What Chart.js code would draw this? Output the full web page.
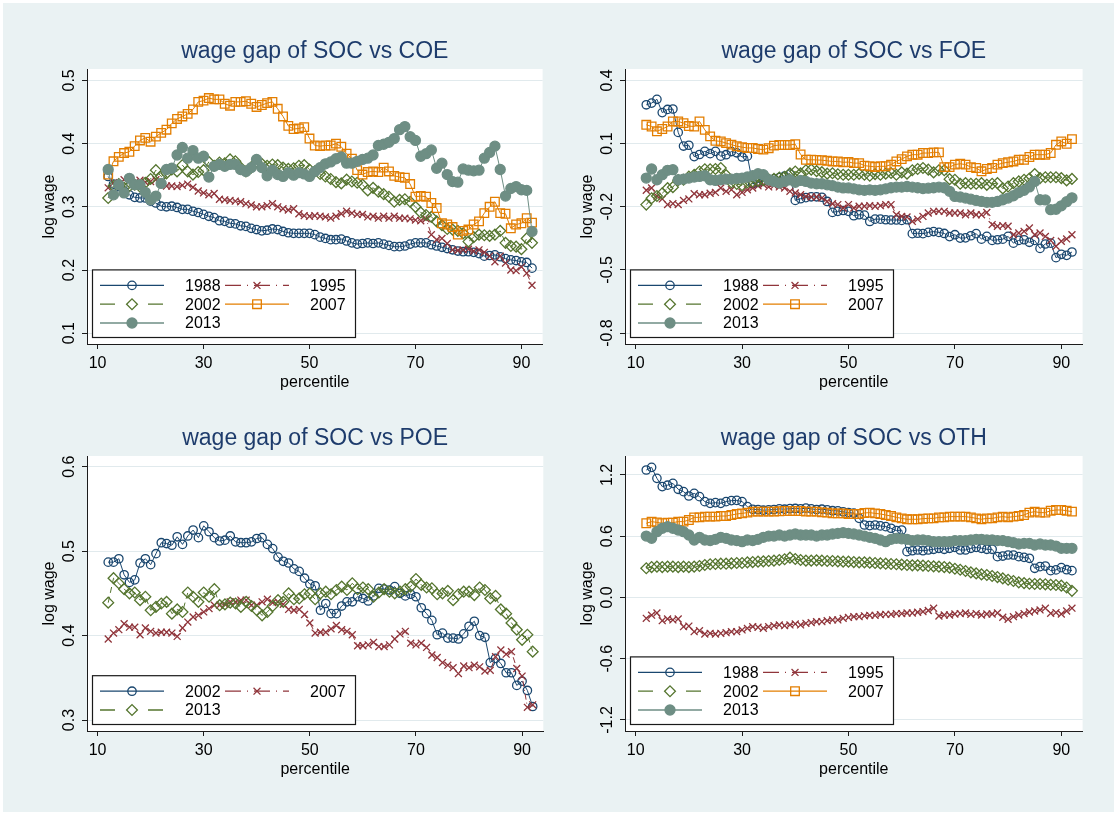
<!DOCTYPE html>
<html>
<head>
<meta charset="utf-8">
<title>wage gap of SOC</title>
<script src="https://cdn.jsdelivr.net/npm/chart.js@4.4.1/dist/chart.umd.min.js"></script>
<style>
    html, body { margin: 0; padding: 0; background: #fff; }
    #frame { position: absolute; left: 3px; top: 3px; width: 1111px; height: 809px; background: #eaf2f3; }
    canvas { position: absolute; }
</style>
</head>
<body>
<div id="frame"></div>
<script>
'use strict'

// percentiles on the x axis
const percentiles = [12, 13, 14, 15, 16, 17, 18, 19, 20, 21,
    22, 23, 24, 25, 26, 27, 28, 29, 30, 31,
    32, 33, 34, 35, 36, 37, 38, 39, 40, 41,
    42, 43, 44, 45, 46, 47, 48, 49, 50, 51,
    52, 53, 54, 55, 56, 57, 58, 59, 60, 61,
    62, 63, 64, 65, 66, 67, 68, 69, 70, 71,
    72, 73, 74, 75, 76, 77, 78, 79, 80, 81,
    82, 83, 84, 85, 86, 87, 88, 89, 90, 91,
    92];
const xTicks = [10, 30, 50, 70, 90];

// SOC vs COE
const coe1988 = [0.348, 0.336, 0.332, 0.325, 0.319, 0.315, 0.314, 0.314, 0.309, 0.306,
    0.301, 0.300, 0.301, 0.299, 0.296, 0.296, 0.293, 0.291, 0.288, 0.285,
    0.283, 0.278, 0.277, 0.274, 0.273, 0.270, 0.269, 0.266, 0.264, 0.262,
    0.263, 0.265, 0.264, 0.261, 0.259, 0.258, 0.258, 0.258, 0.258, 0.256,
    0.252, 0.250, 0.248, 0.248, 0.249, 0.246, 0.243, 0.241, 0.242, 0.243,
    0.242, 0.243, 0.241, 0.239, 0.237, 0.237, 0.238, 0.241, 0.243, 0.243,
    0.243, 0.240, 0.238, 0.236, 0.234, 0.232, 0.230, 0.229, 0.229, 0.228,
    0.226, 0.222, 0.223, 0.224, 0.221, 0.218, 0.216, 0.215, 0.213, 0.212,
    0.203];
const coe1995 = [0.330, 0.338, 0.336, 0.343, 0.345, 0.338, 0.342, 0.339, 0.340, 0.343,
    0.338, 0.333, 0.333, 0.332, 0.334, 0.336, 0.331, 0.325, 0.322, 0.319,
    0.321, 0.312, 0.311, 0.310, 0.309, 0.308, 0.305, 0.303, 0.300, 0.300,
    0.302, 0.305, 0.300, 0.297, 0.295, 0.297, 0.289, 0.286, 0.285, 0.286,
    0.285, 0.284, 0.282, 0.285, 0.289, 0.293, 0.290, 0.288, 0.288, 0.284,
    0.285, 0.282, 0.285, 0.282, 0.285, 0.282, 0.282, 0.281, 0.279, 0.278,
    0.281, 0.256, 0.248, 0.250, 0.242, 0.232, 0.231, 0.232, 0.233, 0.230,
    0.232, 0.228, 0.222, 0.213, 0.222, 0.211, 0.200, 0.199, 0.205, 0.195,
    0.176];
const coe2002 = [0.314, 0.333, 0.336, 0.330, 0.333, 0.335, 0.332, 0.338, 0.344, 0.358,
    0.348, 0.353, 0.359, 0.356, 0.366, 0.356, 0.351, 0.355, 0.358, 0.371,
    0.365, 0.370, 0.369, 0.375, 0.372, 0.362, 0.356, 0.362, 0.371, 0.368,
    0.365, 0.367, 0.366, 0.362, 0.360, 0.361, 0.365, 0.366, 0.359, 0.356,
    0.352, 0.348, 0.344, 0.339, 0.337, 0.343, 0.340, 0.338, 0.335, 0.326,
    0.330, 0.324, 0.320, 0.316, 0.308, 0.311, 0.312, 0.308, 0.300, 0.291,
    0.287, 0.284, 0.277, 0.271, 0.265, 0.264, 0.262, 0.258, 0.245, 0.252,
    0.256, 0.255, 0.254, 0.256, 0.262, 0.243, 0.238, 0.237, 0.233, 0.250,
    0.243];
const coe2007 = [0.351, 0.372, 0.379, 0.385, 0.387, 0.396, 0.405, 0.409, 0.403, 0.411,
    0.417, 0.422, 0.432, 0.439, 0.443, 0.447, 0.454, 0.466, 0.468, 0.472,
    0.470, 0.470, 0.463, 0.460, 0.466, 0.466, 0.467, 0.463, 0.458, 0.461,
    0.464, 0.466, 0.455, 0.443, 0.428, 0.423, 0.424, 0.426, 0.408, 0.397,
    0.396, 0.397, 0.397, 0.400, 0.395, 0.384, 0.376, 0.358, 0.351, 0.355,
    0.356, 0.355, 0.362, 0.356, 0.349, 0.347, 0.346, 0.336, 0.316, 0.317,
    0.316, 0.306, 0.298, 0.274, 0.272, 0.268, 0.256, 0.262, 0.264, 0.272,
    0.277, 0.290, 0.300, 0.308, 0.290, 0.289, 0.266, 0.272, 0.274, 0.282,
    0.275];
const coe2013 = [0.359, 0.319, 0.335, 0.322, 0.345, 0.335, 0.335, 0.323, 0.311, 0.317,
    0.337, 0.359, 0.361, 0.382, 0.394, 0.377, 0.389, 0.377, 0.380, 0.347,
    0.364, 0.367, 0.364, 0.367, 0.367, 0.359, 0.356, 0.362, 0.375, 0.362,
    0.349, 0.358, 0.351, 0.348, 0.354, 0.350, 0.354, 0.352, 0.348, 0.356,
    0.362, 0.368, 0.371, 0.376, 0.379, 0.369, 0.369, 0.372, 0.375, 0.377,
    0.382, 0.397, 0.399, 0.402, 0.408, 0.422, 0.427, 0.411, 0.405, 0.380,
    0.384, 0.390, 0.361, 0.369, 0.351, 0.340, 0.339, 0.360, 0.358, 0.357,
    0.358, 0.377, 0.386, 0.396, 0.359, 0.317, 0.329, 0.332, 0.327, 0.326,
    0.261];

// SOC vs FOE
const foe1988 = [0.284, 0.292, 0.310, 0.247, 0.262, 0.264, 0.153, 0.088, 0.092, 0.038,
    0.048, 0.063, 0.052, 0.063, 0.040, 0.047, 0.062, 0.056, 0.036, 0.040,
    -0.091, -0.085, -0.078, -0.072, -0.068, -0.062, -0.055, -0.045, -0.170, -0.162,
    -0.157, -0.153, -0.153, -0.155, -0.175, -0.227, -0.222, -0.218, -0.222, -0.243,
    -0.238, -0.240, -0.270, -0.259, -0.259, -0.262, -0.263, -0.263, -0.265, -0.262,
    -0.328, -0.326, -0.328, -0.322, -0.318, -0.322, -0.327, -0.342, -0.333, -0.349,
    -0.348, -0.338, -0.328, -0.354, -0.341, -0.360, -0.357, -0.354, -0.341, -0.373,
    -0.360, -0.357, -0.369, -0.360, -0.398, -0.377, -0.373, -0.442, -0.426, -0.431,
    -0.415];
const foe1995 = [-0.122, -0.111, -0.150, -0.163, -0.190, -0.185, -0.190, -0.170, -0.163, -0.138,
    -0.143, -0.143, -0.136, -0.132, -0.111, -0.127, -0.119, -0.143, -0.132, -0.120,
    -0.111, -0.101, -0.095, -0.106, -0.100, -0.106, -0.111, -0.127, -0.135, -0.143,
    -0.151, -0.154, -0.154, -0.159, -0.175, -0.186, -0.190, -0.206, -0.190, -0.206,
    -0.198, -0.198, -0.195, -0.198, -0.195, -0.190, -0.190, -0.238, -0.246, -0.249,
    -0.270, -0.259, -0.246, -0.230, -0.222, -0.222, -0.222, -0.230, -0.230, -0.230,
    -0.238, -0.230, -0.238, -0.238, -0.227, -0.285, -0.293, -0.290, -0.293, -0.333,
    -0.325, -0.317, -0.301, -0.333, -0.325, -0.341, -0.360, -0.388, -0.364, -0.353,
    -0.333];
const foe2002 = [-0.190, -0.160, -0.149, -0.136, -0.112, -0.107, -0.074, -0.072, -0.057, -0.049,
    -0.033, -0.022, -0.022, -0.021, -0.016, -0.050, -0.085, -0.092, -0.098, -0.085,
    -0.080, -0.078, -0.074, -0.070, -0.068, -0.062, -0.058, -0.042, -0.033, -0.042,
    -0.027, -0.024, -0.031, -0.036, -0.043, -0.041, -0.046, -0.048, -0.048, -0.048,
    -0.044, -0.048, -0.053, -0.045, -0.048, -0.043, -0.040, -0.048, -0.037, -0.043,
    -0.027, -0.021, -0.016, -0.024, -0.037, -0.027, -0.027, -0.069, -0.072, -0.091,
    -0.088, -0.091, -0.091, -0.088, -0.096, -0.091, -0.088, -0.113, -0.104, -0.088,
    -0.080, -0.072, -0.066, -0.045, -0.064, -0.060, -0.060, -0.060, -0.064, -0.075,
    -0.068];
const foe2007 = [0.189, 0.181, 0.158, 0.169, 0.181, 0.205, 0.205, 0.197, 0.183, 0.181,
    0.205, 0.165, 0.134, 0.113, 0.110, 0.102, 0.095, 0.087, 0.083, 0.079,
    0.079, 0.074, 0.071, 0.078, 0.090, 0.093, 0.093, 0.093, 0.097, 0.048,
    0.023, 0.023, 0.022, 0.021, 0.018, 0.015, 0.015, 0.011, 0.012, 0.007,
    0.007, -0.005, -0.008, -0.011, -0.008, -0.008, 0.000, 0.015, 0.026, 0.039,
    0.047, 0.047, 0.055, 0.055, 0.058, 0.058, -0.012, -0.012, 0.000, 0.004,
    0.000, -0.012, -0.016, -0.032, -0.021, -0.016, 0.000, 0.007, 0.011, 0.015,
    0.023, 0.023, 0.036, 0.047, 0.047, 0.047, 0.055, 0.094, 0.110, 0.099,
    0.121];
const foe2013 = [-0.064, -0.021, -0.072, -0.048, -0.027, -0.024, -0.072, -0.069, -0.064, -0.059,
    -0.056, -0.053, -0.072, -0.075, -0.072, -0.069, -0.069, -0.066, -0.064, -0.059,
    -0.053, -0.043, -0.048, -0.072, -0.080, -0.088, -0.080, -0.072, -0.084, -0.075,
    -0.080, -0.088, -0.091, -0.091, -0.096, -0.100, -0.107, -0.111, -0.111, -0.115,
    -0.120, -0.122, -0.120, -0.122, -0.120, -0.115, -0.110, -0.107, -0.107, -0.104,
    -0.107, -0.110, -0.114, -0.112, -0.110, -0.107, -0.110, -0.127, -0.151, -0.154,
    -0.159, -0.164, -0.170, -0.175, -0.179, -0.179, -0.175, -0.167, -0.159, -0.148,
    -0.133, -0.122, -0.106, -0.080, -0.167, -0.168, -0.214, -0.212, -0.196, -0.176,
    -0.158];

// SOC vs POE
const poe2002 = [0.487, 0.487, 0.491, 0.472, 0.463, 0.466, 0.486, 0.491, 0.484, 0.497,
    0.510, 0.509, 0.507, 0.517, 0.508, 0.518, 0.525, 0.516, 0.530, 0.523,
    0.516, 0.512, 0.513, 0.518, 0.511, 0.510, 0.510, 0.511, 0.515, 0.516,
    0.508, 0.503, 0.493, 0.488, 0.486, 0.479, 0.476, 0.468, 0.461, 0.459,
    0.430, 0.438, 0.426, 0.426, 0.435, 0.440, 0.440, 0.446, 0.444, 0.441,
    0.447, 0.456, 0.455, 0.454, 0.458, 0.450, 0.447, 0.449, 0.446, 0.433,
    0.426, 0.418, 0.401, 0.403, 0.397, 0.397, 0.396, 0.402, 0.411, 0.417,
    0.400, 0.398, 0.368, 0.373, 0.367, 0.356, 0.356, 0.341, 0.346, 0.335,
    0.316];
const poe2007 = [0.396, 0.403, 0.407, 0.414, 0.410, 0.410, 0.401, 0.409, 0.405, 0.403,
    0.404, 0.404, 0.403, 0.399, 0.409, 0.416, 0.422, 0.424, 0.428, 0.432,
    0.436, 0.436, 0.437, 0.440, 0.440, 0.442, 0.442, 0.436, 0.436, 0.440,
    0.443, 0.439, 0.440, 0.437, 0.431, 0.430, 0.431, 0.425, 0.415, 0.403,
    0.404, 0.404, 0.408, 0.412, 0.407, 0.405, 0.401, 0.388, 0.388, 0.389,
    0.392, 0.387, 0.387, 0.389, 0.396, 0.402, 0.405, 0.391, 0.389, 0.391,
    0.386, 0.377, 0.374, 0.368, 0.365, 0.362, 0.355, 0.364, 0.362, 0.365,
    0.363, 0.358, 0.359, 0.375, 0.383, 0.378, 0.381, 0.361, 0.352, 0.315,
    0.318];
const poe2013 = [0.439, 0.468, 0.462, 0.455, 0.450, 0.451, 0.442, 0.446, 0.430, 0.434,
    0.438, 0.440, 0.426, 0.431, 0.428, 0.451, 0.446, 0.440, 0.451, 0.446,
    0.455, 0.436, 0.437, 0.439, 0.438, 0.434, 0.440, 0.435, 0.430, 0.424,
    0.428, 0.435, 0.442, 0.440, 0.450, 0.443, 0.444, 0.449, 0.450, 0.443,
    0.450, 0.452, 0.449, 0.454, 0.458, 0.454, 0.462, 0.455, 0.457, 0.455,
    0.446, 0.451, 0.455, 0.452, 0.450, 0.452, 0.455, 0.458, 0.467, 0.460,
    0.457, 0.456, 0.449, 0.450, 0.453, 0.442, 0.449, 0.452, 0.452, 0.448,
    0.457, 0.454, 0.444, 0.447, 0.431, 0.426, 0.415, 0.407, 0.395, 0.401,
    0.381];

// SOC vs OTH
const oth1988 = [1.249, 1.275, 1.167, 1.086, 1.100, 1.118, 1.060, 1.037, 0.994, 1.020,
    0.988, 0.939, 0.922, 0.929, 0.922, 0.939, 0.949, 0.951, 0.939, 0.890,
    0.864, 0.862, 0.855, 0.858, 0.862, 0.868, 0.865, 0.870, 0.872, 0.868,
    0.875, 0.868, 0.862, 0.865, 0.858, 0.850, 0.848, 0.840, 0.832, 0.826,
    0.775, 0.710, 0.704, 0.710, 0.701, 0.694, 0.678, 0.655, 0.661, 0.449,
    0.458, 0.465, 0.458, 0.465, 0.472, 0.482, 0.472, 0.482, 0.491, 0.465,
    0.465, 0.482, 0.491, 0.482, 0.472, 0.472, 0.400, 0.406, 0.416, 0.416,
    0.400, 0.393, 0.384, 0.286, 0.302, 0.308, 0.263, 0.270, 0.292, 0.272,
    0.263];
const oth1995 = [-0.204, -0.173, -0.151, -0.227, -0.210, -0.220, -0.210, -0.286, -0.280, -0.335,
    -0.325, -0.358, -0.351, -0.358, -0.351, -0.345, -0.335, -0.335, -0.318, -0.302,
    -0.286, -0.292, -0.302, -0.286, -0.276, -0.269, -0.276, -0.269, -0.259, -0.269,
    -0.253, -0.246, -0.237, -0.237, -0.227, -0.220, -0.220, -0.204, -0.195, -0.188,
    -0.188, -0.180, -0.175, -0.175, -0.168, -0.165, -0.165, -0.158, -0.158, -0.152,
    -0.152, -0.145, -0.139, -0.128, -0.105, -0.181, -0.172, -0.172, -0.162, -0.158,
    -0.152, -0.165, -0.158, -0.172, -0.162, -0.162, -0.152, -0.194, -0.213, -0.188,
    -0.172, -0.158, -0.142, -0.132, -0.122, -0.105, -0.155, -0.148, -0.162, -0.132,
    -0.105];
const oth2002 = [0.286, 0.298, 0.302, 0.298, 0.302, 0.302, 0.298, 0.302, 0.298, 0.302,
    0.308, 0.318, 0.325, 0.328, 0.331, 0.331, 0.334, 0.338, 0.338, 0.344,
    0.347, 0.351, 0.354, 0.357, 0.361, 0.367, 0.374, 0.390, 0.377, 0.367,
    0.361, 0.361, 0.364, 0.361, 0.357, 0.357, 0.354, 0.351, 0.351, 0.347,
    0.344, 0.344, 0.341, 0.338, 0.334, 0.331, 0.328, 0.325, 0.322, 0.318,
    0.315, 0.315, 0.312, 0.308, 0.305, 0.302, 0.298, 0.292, 0.282, 0.272,
    0.259, 0.246, 0.236, 0.226, 0.220, 0.210, 0.200, 0.187, 0.174, 0.161,
    0.148, 0.141, 0.135, 0.132, 0.132, 0.129, 0.125, 0.122, 0.116, 0.098,
    0.065];
const oth2007 = [0.727, 0.743, 0.736, 0.727, 0.733, 0.733, 0.743, 0.743, 0.759, 0.785,
    0.785, 0.792, 0.792, 0.792, 0.798, 0.798, 0.808, 0.818, 0.824, 0.831,
    0.841, 0.841, 0.841, 0.841, 0.841, 0.845, 0.847, 0.847, 0.847, 0.847,
    0.841, 0.841, 0.841, 0.834, 0.831, 0.824, 0.824, 0.824, 0.818, 0.818,
    0.818, 0.828, 0.831, 0.824, 0.818, 0.808, 0.798, 0.785, 0.775, 0.766,
    0.766, 0.766, 0.772, 0.775, 0.775, 0.785, 0.785, 0.792, 0.792, 0.792,
    0.792, 0.785, 0.775, 0.766, 0.775, 0.775, 0.785, 0.792, 0.785, 0.792,
    0.798, 0.808, 0.831, 0.841, 0.831, 0.831, 0.850, 0.857, 0.857, 0.850,
    0.841];
const oth2013 = [0.602, 0.580, 0.645, 0.678, 0.694, 0.678, 0.661, 0.645, 0.612, 0.563,
    0.589, 0.563, 0.557, 0.570, 0.589, 0.580, 0.563, 0.557, 0.547, 0.563,
    0.557, 0.570, 0.589, 0.602, 0.602, 0.612, 0.602, 0.612, 0.622, 0.612,
    0.612, 0.612, 0.602, 0.612, 0.612, 0.622, 0.628, 0.635, 0.628, 0.622,
    0.612, 0.602, 0.589, 0.580, 0.563, 0.547, 0.570, 0.580, 0.575, 0.570,
    0.557, 0.563, 0.563, 0.557, 0.547, 0.547, 0.547, 0.547, 0.557, 0.557,
    0.557, 0.563, 0.570, 0.570, 0.563, 0.563, 0.557, 0.557, 0.547, 0.537,
    0.524, 0.530, 0.530, 0.514, 0.524, 0.514, 0.514, 0.504, 0.482, 0.482,
    0.482];

// y axis ticks per panel
const coeTicks = [0.1, 0.2, 0.3, 0.4, 0.5];
const foeTicks = [-0.8, -0.5, -0.2, 0.1, 0.4];
const poeTicks = [0.3, 0.4, 0.5, 0.6];
const othTicks = [-1.2, -0.6, 0.0, 0.6, 1.2];

const FONT = '"Liberation Sans", Arial, Helvetica, sans-serif';
const AXIS = '#1c1c1c';
const GRID = '#e1eaed';
const TITLE_COLOR = '#1e3c6c';

Chart.defaults.font.family = FONT;

// Stata-like plot styles, used in series order
const slotStyles = [
    { color: '#1a476f', pointStyle: 'circle', radius: 4.2, filled: false, dash: [], keyDash: [] },
    { color: '#90353b', pointStyle: 'crossRot', radius: 4.9, filled: false, dash: [6, 3, 1, 3], keyDash: [16, 6, 1, 6] },
    { color: '#55752f', pointStyle: 'rectRot', radius: 5.4, filled: false, dash: [6, 4], keyDash: [15, 33] },
    { color: '#e37e00', pointStyle: 'rect', radius: 6.1, filled: false, dash: [], keyDash: [] },
    { color: '#6e8e84', pointStyle: 'circle', radius: 5, filled: true, dash: [], keyDash: [] }
];

const panels = [
    { title: 'wage gap of SOC vs COE', box: [87, 69, 542, 344], yRange: [0.083, 0.518], yTicks: coeTicks,
      series: [['1988', coe1988], ['1995', coe1995], ['2002', coe2002], ['2007', coe2007], ['2013', coe2013]] },
    { title: 'wage gap of SOC vs FOE', box: [625, 69, 1082, 344], yRange: [-0.852, 0.454], yTicks: foeTicks,
      series: [['1988', foe1988], ['1995', foe1995], ['2002', foe2002], ['2007', foe2007], ['2013', foe2013]] },
    { title: 'wage gap of SOC vs POE', box: [87, 456, 542, 731], yRange: [0.287, 0.6127], yTicks: poeTicks,
      series: [['2002', poe2002], ['2007', poe2007], ['2013', poe2013]] },
    { title: 'wage gap of SOC vs OTH', box: [625, 456, 1082, 731], yRange: [-1.308, 1.386], yTicks: othTicks,
      series: [['1988', oth1988], ['1995', oth1995], ['2002', oth2002], ['2007', oth2007], ['2013', oth2013]] }
];

// white plot region behind everything
const plotRegion = {
    id: 'plotRegion',
    beforeDraw(chart) {
        const { ctx, chartArea: a } = chart;
        ctx.save();
        ctx.fillStyle = '#fff';
        ctx.fillRect(a.left, a.top, a.right - a.left, a.bottom - a.top);
        ctx.restore();
    }
};

// vertical y tick labels and y axis title
const sideLabels = {
    id: 'sideLabels',
    afterDraw(chart, args, opts) {
        const { ctx, chartArea: a, scales: { y } } = chart;
        ctx.save();
        ctx.fillStyle = '#000';
        ctx.font = '16px ' + FONT;
        ctx.textAlign = 'center';
        ctx.textBaseline = 'alphabetic';
        y.ticks.forEach(t => {
            ctx.save();
            ctx.translate(a.left - 13, y.getPixelForValue(t.value));
            ctx.rotate(-Math.PI / 2);
            ctx.fillText(t.value.toFixed(1), 0, 0);
            ctx.restore();
        });
        ctx.translate(a.left - 33, (a.top + a.bottom) / 2);
        ctx.rotate(-Math.PI / 2);
        ctx.fillText(opts.text, 0, 0);
        ctx.restore();
    }
};

// boxed key in the lower left corner of the plot region
const keyBox = {
    id: 'keyBox',
    afterDraw(chart) {
        const { ctx, chartArea: a } = chart;
        const sets = chart.data.datasets;
        const rows = Math.ceil(sets.length / 2);
        const rowGap = 18.8;
        const h = 16 + (rows - 1) * rowGap + 14;
        const x0 = a.left + 5;
        const y0 = a.bottom - 7 - h;

        ctx.save();
        ctx.fillStyle = '#fff';
        ctx.fillRect(x0, y0, 263, h);
        ctx.strokeStyle = '#1a1a1a';
        ctx.lineWidth = 1.2;
        ctx.strokeRect(x0 + 0.5, y0 + 0.5, 263, h);

        sets.forEach((ds, i) => {
            const st = ds.slot;
            const col = i % 2;
            const cy = y0 + 16 + Math.floor(i / 2) * rowGap;
            const kx = x0 + 8 + col * 125;

            ctx.save();
            ctx.strokeStyle = st.color;
            ctx.lineWidth = 1.3;
            ctx.setLineDash(st.keyDash);
            ctx.beginPath();
            ctx.moveTo(kx, cy);
            ctx.lineTo(kx + 64, cy);
            ctx.stroke();
            ctx.setLineDash([]);
            ctx.fillStyle = st.filled ? st.color : 'rgba(0,0,0,0)';
            ctx.lineWidth = 1.3;
            Chart.helpers.drawPoint(ctx, { pointStyle: st.pointStyle, radius: st.radius, rotation: 0, borderWidth: 1.3 }, kx + 32, cy);
            ctx.restore();

            ctx.fillStyle = '#000';
            ctx.font = '16px ' + FONT;
            ctx.textAlign = 'left';
            ctx.textBaseline = 'middle';
            ctx.fillText(ds.label, x0 + 93 + col * 125, cy + 1);
        });
        ctx.restore();
    }
};

panels.forEach(p => {
    const [L, T, R, B] = p.box;
    const canvas = document.createElement('canvas');
    canvas.width = R - L + 92;
    canvas.height = B - T + 125;
    canvas.style.left = (L - 84) + 'px';
    canvas.style.top = (T - 65) + 'px';
    document.body.appendChild(canvas);

    const datasets = p.series.map(([label, values], k) => {
        const st = slotStyles[k];
        return {
            label: label,
            slot: st,
            data: percentiles.map((pc, i) => ({ x: pc, y: values[i] })),
            borderColor: st.color,
            backgroundColor: st.filled ? st.color : 'rgba(0,0,0,0)',
            borderWidth: 1,
            borderDash: st.dash,
            pointStyle: st.pointStyle,
            pointRadius: st.radius,
            pointBorderWidth: 1.3,
            pointBorderColor: st.color,
            pointBackgroundColor: st.filled ? st.color : 'rgba(0,0,0,0)',
            tension: 0,
            order: 5 - k
        };
    });

    new Chart(canvas, {
        type: 'line',
        data: { datasets: datasets },
        options: {
            responsive: false,
            animation: false,
            devicePixelRatio: 1,
            events: [],
            layout: { padding: 0 },
            scales: {
                x: {
                    type: 'linear',
                    min: 8,
                    max: 94,
                    afterBuildTicks: s => { s.ticks = xTicks.map(v => ({ value: v })); },
                    afterFit: s => { s.height = 60; },
                    grid: { drawOnChartArea: false, drawTicks: true, tickLength: 5, tickColor: AXIS },
                    border: { display: true, color: AXIS, width: 1 },
                    ticks: { color: '#000', font: { size: 16 }, padding: 5, maxRotation: 0, autoSkip: false, callback: v => String(v) },
                    title: { display: true, text: 'percentile', color: '#000', font: { size: 16 }, padding: { top: 12, bottom: 12 } }
                },
                y: {
                    type: 'linear',
                    min: p.yRange[0],
                    max: p.yRange[1],
                    afterBuildTicks: s => { s.ticks = p.yTicks.map(v => ({ value: v })); },
                    afterFit: s => { s.width = 84; },
                    grid: { color: GRID, lineWidth: 1, drawTicks: true, tickLength: 5, tickColor: AXIS },
                    border: { display: true, color: AXIS, width: 1 },
                    ticks: { display: false }
                }
            },
            plugins: {
                legend: { display: false },
                tooltip: { enabled: false },
                title: {
                    display: true,
                    text: p.title,
                    fullSize: false,
                    color: TITLE_COLOR,
                    font: { size: 23, weight: 'normal' },
                    padding: { top: 34, bottom: 3.4 }
                },
                sideLabels: { text: 'log wage' }
            }
        },
        plugins: [plotRegion, sideLabels, keyBox]
    });
});
</script>
</body>
</html>
